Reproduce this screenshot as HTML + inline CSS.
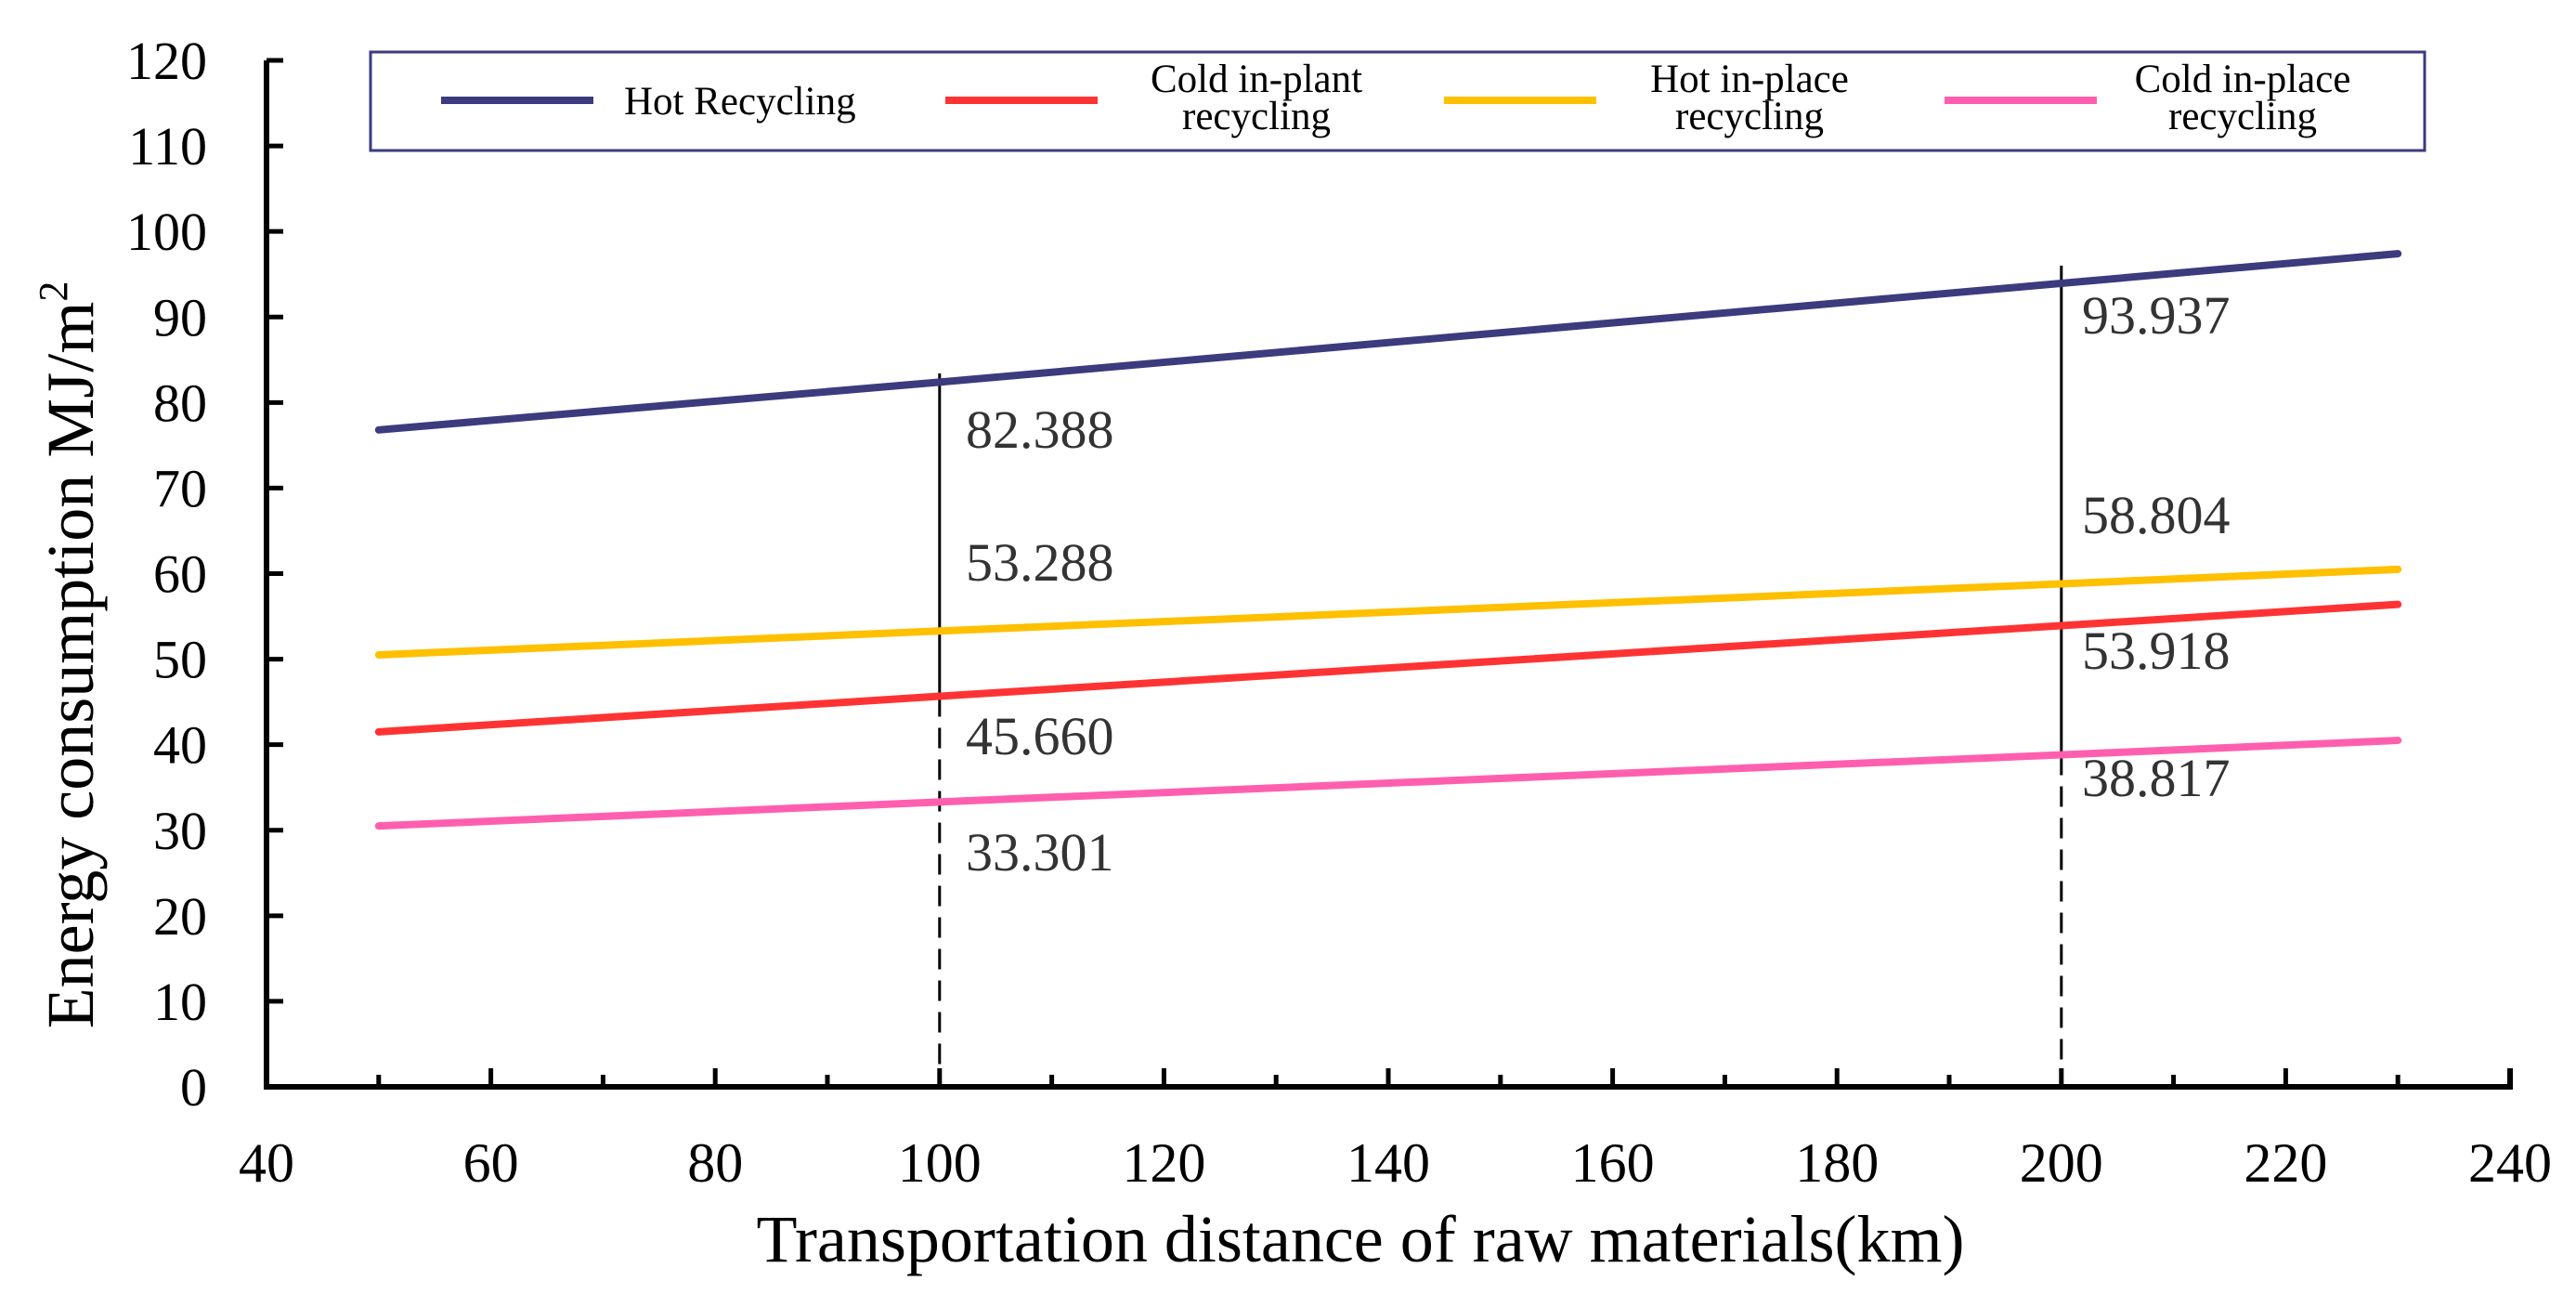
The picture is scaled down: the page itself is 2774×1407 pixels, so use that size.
<!DOCTYPE html>
<html><head><meta charset="utf-8"><style>
body{margin:0;background:#fff}
svg{display:block;font-family:"Liberation Serif",serif}
</style></head><body>
<svg id="chart" width="2774" height="1407" viewBox="0 0 2774 1407" xmlns="http://www.w3.org/2000/svg"></svg>
<script>
const xTicks=[40,60,80,100,120,140,160,180,200,220,240];
const yTicks=[0,10,20,30,40,50,60,70,80,90,100,110,120];
const distances=[50,100,200,230];
const hotRecycling=[76.8,82.388,93.937,97.4];
const coldInPlant=[41.5,45.66,53.918,56.4];
const hotInPlace=[50.5,53.288,58.804,60.5];
const coldInPlace=[30.5,33.301,38.817,40.5];
const seriesNames=["Hot Recycling","Cold in-plant recycling","Hot in-place recycling","Cold in-place recycling"];
const markerX=[100,200];
const labels100=["82.388","53.288","45.660","33.301"];
const labels200=["93.937","58.804","53.918","38.817"];

const NS="http://www.w3.org/2000/svg";
const svg=document.getElementById('chart');
const X0=287,X1=2703,Y0=1170,Y1=65;
const sx=v=>X0+(v-40)/200*(X1-X0);
const sy=v=>Y0-(v/120)*(Y0-Y1);
function mk(t,a,p){const e=document.createElementNS(NS,t);for(const k in a)e.setAttribute(k,a[k]);(p||svg).appendChild(e);return e;}

const m1=mk('line',{x1:sx(100),x2:sx(100),y1:402,y2:sy(45.66),stroke:'#000','stroke-width':3});


const m1d=mk('line',{x1:sx(100),x2:sx(100),y1:sy(45.66),y2:Y0,stroke:'#000','stroke-width':3,'stroke-dasharray':'22 12'});


const m2=mk('line',{x1:sx(200),x2:sx(200),y1:286,y2:sy(38.817),stroke:'#000','stroke-width':3});


const m2d=mk('line',{x1:sx(200),x2:sx(200),y1:sy(38.817),y2:Y0,stroke:'#000','stroke-width':3,'stroke-dasharray':'22 12'});



const ax=mk('path',{d:`M${X0},${Y1} V${Y0} H${X1} V${Y0-20}`,fill:'none',stroke:'#000','stroke-width':6});


yTicks.forEach(v=>{
 const t=mk('line',{x1:X0,x2:X0+18,y1:sy(v),y2:sy(v),stroke:'#000','stroke-width':5});
 
 
 const l=mk('text',{x:223,y:sy(v)+20,'text-anchor':'end','font-size':58,fill:'#000'});
 l.textContent=v;
 
 
});
for(let v=50;v<240;v+=10){
 const major=v%20===0;
 const t=mk('line',{x1:sx(v),x2:sx(v),y1:Y0,y2:Y0-(major?20:13),stroke:'#000','stroke-width':5});
 
 
}
xTicks.forEach(v=>{
 const l=mk('text',{x:sx(v),y:1272,'text-anchor':'middle','font-size':60,fill:'#000'});
 l.textContent=v;
 
 
});
const xt=mk('text',{x:1465,y:1358,'text-anchor':'middle','font-size':72,fill:'#000'});
xt.textContent='Transportation distance of raw materials(km)';


const yt=mk('text',{x:0,y:0,'text-anchor':'middle','font-size':72,fill:'#000',transform:'translate(100,705) rotate(-90)'});
yt.innerHTML='Energy consumption MJ/m<tspan dy="-28" font-size="44">2</tspan>';



const allSeries=[hotRecycling,coldInPlant,hotInPlace,coldInPlace];
const colors=['#3b3b7e','#ff3333','#ffc000','#ff5fae'];
const sNames=['hot-recycling-line','cold-in-plant-line','hot-in-place-line','cold-in-place-line'];
allSeries.forEach((s,i)=>{
 const p=mk('polyline',{points:s.map((v,j)=>sx(distances[j])+','+sy(v)).join(' '),fill:'none',stroke:colors[i],'stroke-width':8,'stroke-linecap':'round'});
 
 
});

const lab100Y=[482,625,812,937], lab200Y=[359,574,720,857];
labels100.forEach((t,i)=>{
 const e=mk('text',{x:1040,y:lab100Y[i],'font-size':58,fill:'#333'});
 e.textContent=t;
 
 
});
labels200.forEach((t,i)=>{
 const e=mk('text',{x:2242,y:lab200Y[i],'font-size':58,fill:'#333'});
 e.textContent=t;
 
 
});

const lg=mk('g',{});


const box=mk('rect',{x:399,y:56,width:2212,height:106,fill:'#fff',stroke:'#3b3b7e','stroke-width':3},lg);


const lineX=[475,1018,1555,2094];
const textX=[672,1353,1884,2415];
seriesNames.forEach((n,i)=>{
 const l=mk('line',{x1:lineX[i],x2:lineX[i]+164,y1:108,y2:108,stroke:colors[i],'stroke-width':8},lg);
 
 
 let t;
 if(i===0){
  t=mk('text',{x:textX[i],y:123,'font-size':43,fill:'#000'},lg);
  t.textContent=n;
 } else {
  const parts=n.split(' ');
  const last=parts.pop();
  t=mk('text',{x:textX[i],y:99,'text-anchor':'middle','font-size':43,fill:'#000'},lg);
  t.innerHTML='<tspan x="'+textX[i]+'">'+parts.join(' ')+'</tspan><tspan x="'+textX[i]+'" dy="40">'+last+'</tspan>';
 }
 
 
});
</script>
</body></html>
